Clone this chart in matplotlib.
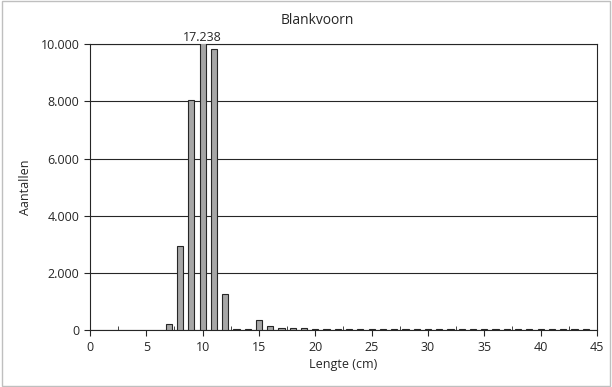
import matplotlib
matplotlib.use("Agg")
import matplotlib.pyplot as plt
from matplotlib.ticker import FuncFormatter, MultipleLocator
from matplotlib.patches import Rectangle

lengths = list(range(7, 45))
counts = [200, 2950, 8030, 17238, 9820, 1270, 30, 25, 370, 130, 90, 60, 70, 40,
          30, 30, 30, 30, 30, 30, 30, 30, 30, 30, 30, 30, 30, 30, 30, 30, 30, 30,
          30, 30, 30, 30, 30, 30]
title = "Blankvoorn"
xlabel = "Lengte (cm)"
ylabel = "Aantallen"
ymax = 10000
clip_label = "17.238"

plt.rcParams['font.family'] = ['Open Sans', 'DejaVu Sans']
fig = plt.figure(figsize=(6.12, 3.87), dpi=100)
ax = fig.add_axes([0.147, 0.147, 0.8285, 0.739])

ax.bar(lengths, counts, width=0.55, color='#a6a6a6', edgecolor='#262626', linewidth=0.8, zorder=3)
ax.set_xlim(0, 45)
ax.set_ylim(0, ymax)
ax.xaxis.set_major_locator(MultipleLocator(5))
ax.xaxis.set_minor_locator(MultipleLocator(2.5))
ax.yaxis.set_major_locator(MultipleLocator(2000))
ax.yaxis.set_major_formatter(FuncFormatter(lambda v, p: f"{int(v):,}".replace(",", ".")))
ax.tick_params(axis='both', which='major', direction='out', length=4, labelsize=9, colors='#262626')
ax.tick_params(axis='x', which='minor', direction='in', length=3, color='#262626')
ax.grid(axis='y', color='#262626', linewidth=0.8, zorder=1)
for s in ax.spines.values():
    s.set_color('#262626')
    s.set_linewidth(0.8)

fig.text(0.518, 0.948, title, ha='center', va='center', fontsize=10, color='#262626')
ax.set_xlabel(xlabel, fontsize=9, color='#262626', labelpad=3)
ax.set_ylabel(ylabel, fontsize=9, color='#262626', labelpad=6)
ax.text(10, ymax, clip_label, ha='center', va='bottom', fontsize=9, color='#262626')

fig.patches.append(Rectangle((0.003, 0.003), 0.994, 0.994, transform=fig.transFigure,
                             fill=False, edgecolor='#bfbfbf', linewidth=1))
fig.savefig("out.png", dpi=100)
